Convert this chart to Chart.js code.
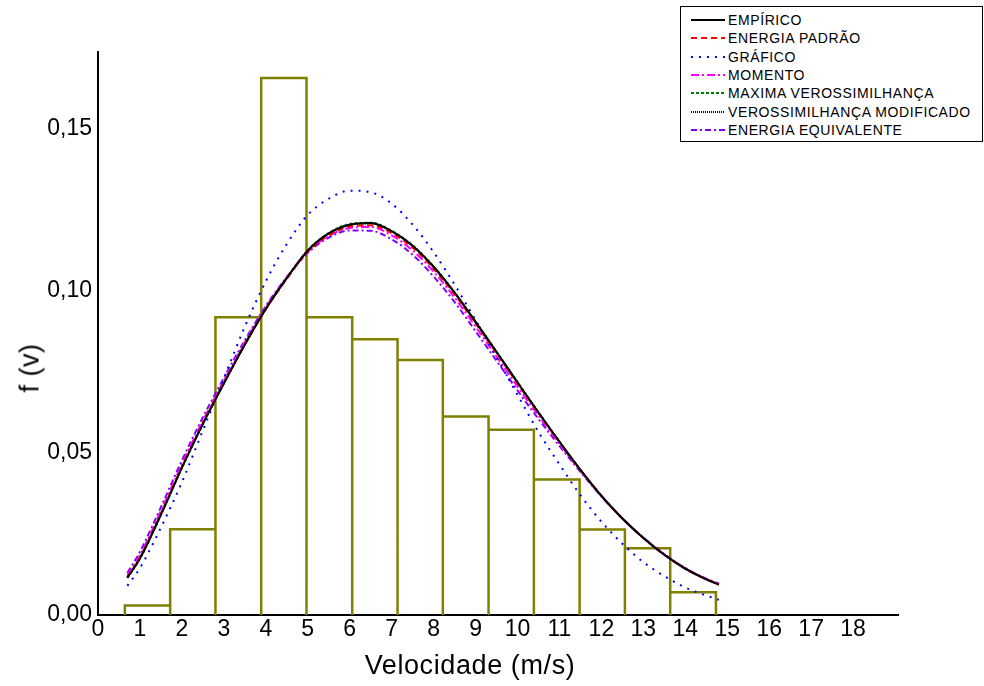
<!DOCTYPE html>
<html>
<head>
<meta charset="utf-8">
<script src="https://cdn.jsdelivr.net/npm/chart.js@4"></script>
<style>
  body { margin: 0; background: #fff; }
  #wrap { position: relative; width: 984px; height: 686px; font-family: "Liberation Sans", Arial, sans-serif; }
  #legend { position: absolute; left: 680px; top: 6px; width: 303px; height: 136px; border: 1px solid #000; background: #fff; box-sizing: border-box; }
  .row { position: absolute; left: 0; height: 18px; font-size: 14px; line-height: 18px; letter-spacing: 0.6px; color: #000; white-space: nowrap; }
  .row svg { position: absolute; left: 10px; top: 4px; }
  .row span { position: absolute; left: 47px; top: 0; }
  #xt { position: absolute; left: 350px; width: 240px; top: 650px; text-align: center; font-size: 27px; letter-spacing: 0.6px; }
  #yt { position: absolute; left: 30px; top: 368px; font-size: 27px; letter-spacing: 0.5px; transform: translate(-50%, -50%) rotate(-90deg); white-space: nowrap; }
</style>
</head>
<body>
<div id="wrap">
  <canvas id="c" width="984" height="686"></canvas>
  <div id="legend"></div>
  <div id="xt">Velocidade (m/s)</div>
  <div id="yt">f (v)</div>
</div>
<script>
// histogram: bin edges and relative frequency
const binEdges = [0.64, 1.72, 2.80, 3.89, 4.97, 6.06, 7.14, 8.22, 9.31, 10.39, 11.48, 12.56, 13.64, 14.73];
const freq = [0.0029, 0.0265, 0.0919, 0.1658, 0.0919, 0.0851, 0.0787, 0.0613, 0.0572, 0.0418, 0.0264, 0.0206, 0.0070];

// fitted curves, sampled along velocity
const vel = [0.7, 1.0, 1.5, 2.0, 2.5, 3.0, 3.5, 4.0, 4.5, 5.0, 5.5, 6.0, 6.5, 7.0, 7.5, 8.0, 8.5, 9.0, 9.5, 10.0, 10.5, 11.0, 11.5, 12.0, 12.5, 13.0, 13.5, 14.0, 14.5, 14.8];
const empirico    = [0.0115, 0.0175, 0.0310, 0.0455, 0.0590, 0.0715, 0.0835, 0.0945, 0.1040, 0.1125, 0.1178, 0.1205, 0.1210, 0.1185, 0.1140, 0.1075, 0.0995, 0.0905, 0.0812, 0.0718, 0.0625, 0.0535, 0.0448, 0.0368, 0.0298, 0.0238, 0.0186, 0.0143, 0.0110, 0.0094];
const padrao      = [0.0117, 0.0178, 0.0313, 0.0457, 0.0592, 0.0716, 0.0835, 0.0944, 0.1038, 0.1121, 0.1172, 0.1199, 0.1203, 0.1179, 0.1134, 0.1069, 0.0990, 0.0900, 0.0808, 0.0715, 0.0623, 0.0534, 0.0448, 0.0368, 0.0298, 0.0238, 0.0186, 0.0143, 0.0110, 0.0094];
const grafico     = [0.0090, 0.0145, 0.0270, 0.0410, 0.0570, 0.0730, 0.0890, 0.1030, 0.1145, 0.1235, 0.1285, 0.1310, 0.1305, 0.1270, 0.1205, 0.1120, 0.1020, 0.0910, 0.0795, 0.0680, 0.0565, 0.0465, 0.0370, 0.0288, 0.0220, 0.0163, 0.0120, 0.0085, 0.0060, 0.0047];
const momento     = [0.0122, 0.0185, 0.0322, 0.0466, 0.0600, 0.0724, 0.0842, 0.0950, 0.1042, 0.1122, 0.1170, 0.1195, 0.1198, 0.1172, 0.1125, 0.1060, 0.0980, 0.0890, 0.0798, 0.0705, 0.0615, 0.0528, 0.0445, 0.0367, 0.0298, 0.0238, 0.0187, 0.0144, 0.0111, 0.0096];
const maxima      = [0.0114, 0.0174, 0.0309, 0.0454, 0.0589, 0.0715, 0.0835, 0.0945, 0.1041, 0.1126, 0.1179, 0.1207, 0.1211, 0.1186, 0.1141, 0.1076, 0.0996, 0.0906, 0.0813, 0.0719, 0.0626, 0.0535, 0.0448, 0.0368, 0.0298, 0.0238, 0.0186, 0.0143, 0.0110, 0.0094];
const modificado  = [0.0115, 0.0175, 0.0310, 0.0455, 0.0590, 0.0715, 0.0835, 0.0945, 0.1040, 0.1125, 0.1178, 0.1205, 0.1209, 0.1184, 0.1139, 0.1074, 0.0994, 0.0904, 0.0811, 0.0717, 0.0624, 0.0534, 0.0447, 0.0368, 0.0298, 0.0238, 0.0186, 0.0143, 0.0110, 0.0094];
const equivalente = [0.0130, 0.0195, 0.0333, 0.0477, 0.0610, 0.0732, 0.0848, 0.0954, 0.1043, 0.1118, 0.1165, 0.1187, 0.1186, 0.1160, 0.1112, 0.1045, 0.0966, 0.0876, 0.0785, 0.0693, 0.0605, 0.0522, 0.0442, 0.0366, 0.0298, 0.0239, 0.0188, 0.0145, 0.0112, 0.0097];

const xTicks = [0, 1, 2, 3, 4, 5, 6, 7, 8, 9, 10, 11, 12, 13, 14, 15, 16, 17, 18];
const yTicks = [0, 0.05, 0.10, 0.15];

const series = [
  { label: 'EMPÍRICO', data: empirico, color: '#000000', dash: [], width: 2 },
  { label: 'ENERGIA PADRÃO', data: padrao, color: '#ff0000', dash: [6, 4], width: 2 },
  { label: 'GRÁFICO', data: grafico, color: '#0000ff', dash: [2, 6], width: 2 },
  { label: 'MOMENTO', data: momento, color: '#ff00ff', dash: [8, 3, 2, 3], width: 2 },
  { label: 'MAXIMA VEROSSIMILHANÇA', data: maxima, color: '#008000', dash: [3, 2], width: 2 },
  { label: 'VEROSSIMILHANÇA MODIFICADO', data: modificado, color: '#000080', dash: [1, 1], width: 2 },
  { label: 'ENERGIA EQUIVALENTE', data: equivalente, color: '#8000ff', dash: [6, 3, 2, 3], width: 2 }
];

// histogram outline as a polyline over the bin edges
const histPts = [{ x: binEdges[0], y: 0 }];
freq.forEach((h, i) => {
  histPts.push({ x: binEdges[i], y: h }, { x: binEdges[i + 1], y: h }, { x: binEdges[i + 1], y: 0 });
});

const datasets = series.map(s => ({
  label: s.label,
  data: vel.map((v, i) => ({ x: v, y: s.data[i] })),
  borderColor: s.color,
  borderDash: s.dash,
  borderWidth: s.width,
  pointRadius: 0,
  fill: false,
  cubicInterpolationMode: 'monotone'
}));
datasets.push({
  label: 'hist',
  data: histPts,
  borderColor: '#808000',
  borderWidth: 2.5,
  pointRadius: 0,
  tension: 0,
  borderJoinStyle: 'miter',
  fill: false
});

const tickFont = { family: '"Liberation Sans", Arial, sans-serif', size: 23 };

new Chart(document.getElementById('c').getContext('2d'), {
  type: 'line',
  data: { datasets },
  options: {
    responsive: false,
    animation: false,
    layout: { padding: { top: 52, right: 86, left: 0, bottom: 0 } },
    plugins: { legend: { display: false }, tooltip: { enabled: false } },
    scales: {
      x: {
        type: 'linear', min: 0, max: 19.07,
        grid: { display: false },
        border: { color: '#000', width: 2 },
        ticks: { color: '#000', font: tickFont, padding: -7, maxRotation: 0, autoSkip: false },
        afterBuildTicks: sc => { sc.ticks = xTicks.map(v => ({ value: v })); },
        afterFit: sc => { sc.height = 71; }
      },
      y: {
        type: 'linear', min: 0, max: 0.1738,
        grid: { display: false },
        border: { color: '#000', width: 2 },
        ticks: { color: '#000', font: tickFont, padding: -2, callback: v => v.toFixed(2).replace('.', ',') },
        afterBuildTicks: sc => { sc.ticks = yTicks.map(v => ({ value: v })); },
        afterFit: sc => { sc.width = 98; }
      }
    }
  }
});

// legend box
const lg = document.getElementById('legend');
series.forEach((s, i) => {
  const row = document.createElement('div');
  row.className = 'row';
  row.style.top = (4 + i * 18.3) + 'px';
  row.innerHTML = '<svg width="34" height="10"><line x1="0" y1="5" x2="34" y2="5" stroke="' + s.color +
    '" stroke-width="2" stroke-dasharray="' + (s.dash.length ? s.dash.join(',') : 'none') + '"/></svg><span>' + s.label + '</span>';
  lg.appendChild(row);
});
</script>
</body>
</html>
